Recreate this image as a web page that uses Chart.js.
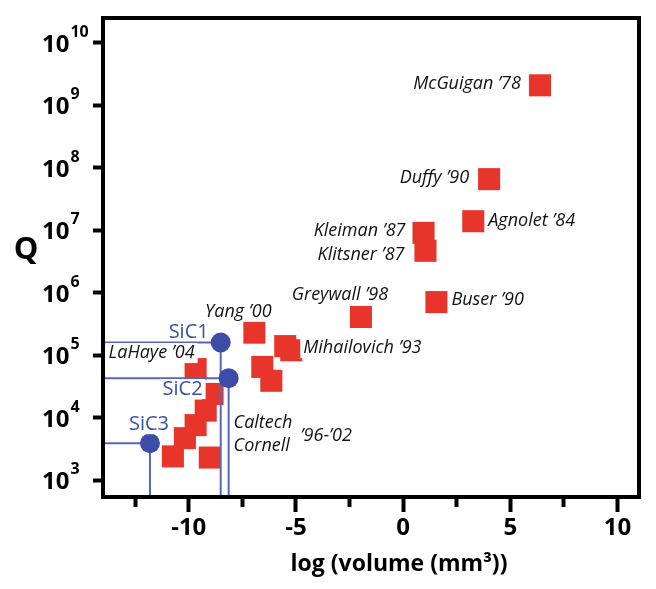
<!DOCTYPE html>
<html>
<head>
<meta charset="utf-8">
<script src="https://cdn.jsdelivr.net/npm/chart.js@4"></script>
<style>
  body { margin: 0; background: #fff; }
  #wrap { width: 656px; height: 589px; }
</style>
</head>
<body>
<div id="wrap"><canvas id="qChart" width="656" height="589"></canvas></div>
<script>
// ----- Data -----
const resonatorNames = [
  "McGuigan ’78", "Duffy ’90", "Agnolet ’84", "Kleiman ’87", "Klitsner ’87",
  "Buser ’90", "Greywall ’98", "Mihailovich ’93", "", "Yang ’00",
  "", "", "LaHaye ’04", "", "", "", "", "", ""
];
const resonatorLogVol = [6.38, 4.01, 3.27, 0.95, 1.04, 1.55, -1.97, -5.50, -5.22, -6.94,
  -6.57, -6.15, -9.68, -8.89, -9.21, -9.68, -10.18, -10.74, -9.02];
const resonatorQ = [2.1e9, 6.6e7, 1.4e7, 9.1e6, 4.7e6, 7.1e5, 4.1e5, 1.4e5, 1.2e5, 2.3e5,
  6.5e4, 3.9e4, 6.0e4, 2.4e4, 1.3e4, 7.6e3, 4.7e3, 2.4e3, 2.3e3];

const sicNames = ["SiC1", "SiC2", "SiC3"];
const sicLogVol = [-8.51, -8.14, -11.81];
const sicQ = [1.6e5, 4.3e4, 3.9e3];

const groupNames = ["Caltech", "Cornell", "’96-’02"];

const xTicks = [-12.5, -10, -7.5, -5, -2.5, 0, 2.5, 5, 7.5, 10];
const yTicks = [1e3, 1e4, 1e5, 1e6, 1e7, 1e8, 1e9, 1e10];
const xMin = -14, xMax = 11;
const yMin = Math.pow(10, 2.73), yMax = Math.pow(10, 10.4);

// ----- Label layout (pixel offsets from the point) -----
const resonatorLabelPos = [
  [-19, -1, "right"], [-20, -1, "right"], [15, 0, "left"], [-18, -2, "right"], [-21, 4, "right"],
  [15, -2, "left"], [-21, -22, "center"], [18, 2, "left"], null, [-16, -21, "center"],
  null, null, [-1, -16, "right"], null, null, null, null, null, null
];
const sicLabelPos = [[-12, -10, "right"], [-26, 11, "right"], [-1, -19, "center"]];
const sicLabelBox = [false, true, true];
const groupLabelPos = [[21, 29, "left"], [21, 52, "left"], [88, 42, "left"]]; // anchored on point 13

const RED = "#e8352c";
const BLUE = "#3d4ca6";
const BLUE_LINE = "#5866b8";
const BLUE_TEXT = "#3a4fa8";
const LABEL_FONT = "italic 18px 'Open Sans'";

// blue guide lines: from left frame to the point, then down to the bottom frame
const guideSets = sicLogVol.map((x, i) => ({
  type: "line",
  data: [{ x: xMin, y: sicQ[i] }, { x: x, y: sicQ[i] }, { x: x, y: yMin }],
  showLine: true,
  borderColor: BLUE_LINE,
  borderWidth: 2,
  pointRadius: 0,
  fill: false,
  order: 2
}));

const annotate = {
  id: "annotate",
  beforeDraw(chart) {
    const ctx = chart.ctx;
    ctx.save();
    ctx.fillStyle = "#fff";
    ctx.fillRect(0, 0, chart.width, chart.height);
    ctx.restore();
  },
  afterDatasetsDraw(chart) {
    const { ctx, chartArea: a } = chart;
    ctx.save();
    ctx.strokeStyle = "#000";
    ctx.lineWidth = 4;
    ctx.strokeRect(a.left, a.top, a.right - a.left, a.bottom - a.top);

    const items = [];
    const redPts = chart.getDatasetMeta(0).data;
    redPts.forEach((pt, i) => {
      const p = resonatorLabelPos[i];
      if (!p || !resonatorNames[i]) return;
      items.push({ x: pt.x + p[0], y: pt.y + p[1], align: p[2], text: resonatorNames[i],
        font: LABEL_FONT, color: "#111", box: true });
    });
    const anchor = redPts[13];
    groupNames.forEach((t, i) => {
      const p = groupLabelPos[i];
      items.push({ x: anchor.x + p[0], y: anchor.y + p[1], align: p[2], text: t,
        font: LABEL_FONT, color: "#111", box: false });
    });
    const sicPts = chart.getDatasetMeta(4).data;
    sicPts.forEach((pt, i) => {
      const p = sicLabelPos[i];
      items.push({ x: pt.x + p[0], y: pt.y + p[1], align: p[2], text: sicNames[i],
        font: "20px 'Open Sans'", color: BLUE_TEXT, box: sicLabelBox[i] });
    });

    ctx.textBaseline = "middle";
    items.forEach(it => {
      if (!it.box) return;
      ctx.font = it.font;
      const w = ctx.measureText(it.text).width;
      let left = it.x;
      if (it.align === "right") left = it.x - w;
      if (it.align === "center") left = it.x - w / 2;
      ctx.fillStyle = "#fff";
      ctx.fillRect(left - 3, it.y - 10, w + 6, 20);
    });
    items.forEach(it => {
      ctx.font = it.font;
      ctx.textAlign = it.align;
      ctx.fillStyle = it.color;
      ctx.fillText(it.text, it.x, it.y);
    });

    // y tick labels: 10 with a raised exponent, left aligned
    const ys = chart.scales.y;
    ctx.fillStyle = "#000";
    ctx.textBaseline = "alphabetic";
    ctx.textAlign = "left";
    yTicks.forEach(v => {
      const py = ys.getPixelForValue(v);
      const exp = String(Math.round(Math.log10(v)));
      ctx.font = "bold 24px 'Open Sans'";
      const bw = ctx.measureText("10").width;
      ctx.fillText("10", 42, py + 9);
      ctx.font = "bold 16px 'Open Sans'";
      ctx.fillText(exp, 42 + bw + 1, py - 6);
    });

    // axis titles
    ctx.textAlign = "center";
    ctx.textBaseline = "middle";
    ctx.font = "bold 31px 'Open Sans'";
    ctx.fillText("Q", 26, 250);
    ctx.font = "bold 23px 'Open Sans'";
    ctx.fillText("log (volume (mm³))", 399, 564);
    ctx.restore();
  }
};

const ctx = document.getElementById("qChart").getContext("2d");
new Chart(ctx, {
  type: "scatter",
  data: {
    datasets: [
      {
        data: resonatorLogVol.map((x, i) => ({ x: x, y: resonatorQ[i] })),
        pointStyle: "rect",
        pointRadius: 15.6,
        pointHoverRadius: 15.6,
        backgroundColor: RED,
        borderWidth: 0,
        order: 3
      },
      ...guideSets,
      {
        data: sicLogVol.map((x, i) => ({ x: x, y: sicQ[i] })),
        pointStyle: "circle",
        pointRadius: 10,
        pointHoverRadius: 10,
        backgroundColor: BLUE,
        borderWidth: 0,
        order: 1
      }
    ]
  },
  options: {
    responsive: false,
    animation: false,
    events: [],
    layout: { padding: { top: 18, right: 17, left: 0, bottom: 0 } },
    plugins: { legend: { display: false }, tooltip: { enabled: false } },
    scales: {
      x: {
        type: "linear",
        min: xMin,
        max: xMax,
        afterBuildTicks: (scale) => { scale.ticks = xTicks.map(v => ({ value: v })); },
        afterFit: (scale) => { scale.height = 92; },
        border: { display: false },
        grid: {
          drawOnChartArea: false,
          drawTicks: true,
          tickLength: 15,
          tickWidth: 4,
          tickColor: "#000",
          tickBorderDash: (c) => (c.tick && c.tick.value % 5 !== 0) ? [10, 100] : []
        },
        ticks: {
          autoSkip: false,
          maxRotation: 0,
          padding: 2,
          color: "#000",
          font: { family: "'Open Sans'", size: 24, weight: "bold" },
          callback: (v) => (v % 5 === 0 ? String(v) : "")
        }
      },
      y: {
        type: "logarithmic",
        min: yMin,
        max: yMax,
        afterBuildTicks: (scale) => { scale.ticks = yTicks.map(v => ({ value: v })); },
        afterFit: (scale) => { scale.width = 103; },
        border: { display: false },
        grid: {
          drawOnChartArea: false,
          drawTicks: true,
          tickLength: 10,
          tickWidth: 4,
          tickColor: "#000"
        },
        ticks: {
          autoSkip: false,
          color: "#000",
          callback: () => ""
        }
      }
    }
  },
  plugins: [annotate]
});
</script>
</body>
</html>
